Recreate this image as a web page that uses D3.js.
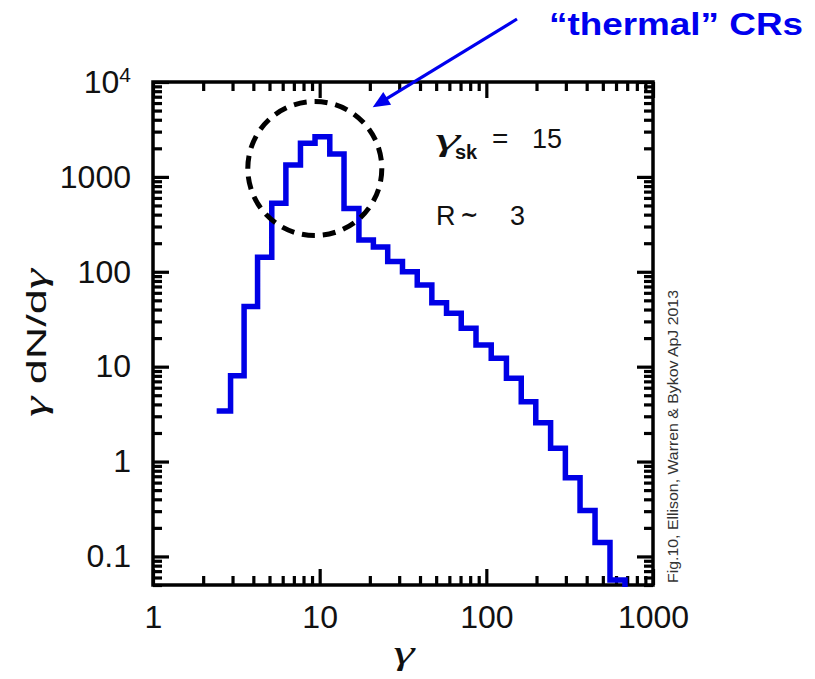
<!DOCTYPE html>
<html>
<head>
<meta charset="utf-8">
<script src="https://cdn.jsdelivr.net/npm/d3@7"></script>
<style>
  html, body { margin: 0; padding: 0; background: #ffffff; }
  svg { display: block; }
</style>
</head>
<body>
<svg id="chart" width="815" height="679"></svg>
<script>
// Lorentz-factor bin edges (gamma) of the histogram
const binEdges = [2.41, 2.92, 3.52, 4.24, 5.16, 6.27, 7.67, 9.38, 11.5, 14.0,
                  17.2, 21.0, 25.6, 31.4, 38.5, 47.1, 57.7, 70.7, 86.7, 107,
                  132, 162, 198, 243, 298, 365, 449, 552, 679, 836];
// gamma dN/dgamma in each bin
const binValues = [3.4, 8.0, 43, 142, 527, 1335, 2260, 2650, 1740, 465,
                   216, 182, 128, 100, 72.6, 47.2, 36.5, 25.4, 16.9, 12.3,
                   7.55, 4.28, 2.57, 1.38, 0.676, 0.304, 0.140, 0.0565, 0.03];

const xTickValues = [1, 10, 100, 1000];
const xTickLabels = ["1", "10", "100", "1000"];
const yTickValues = [0.1, 1, 10, 100, 1000, 10000];
const yTickLabels = ["0.1", "1", "10", "100", "1000", "10^4"];

const xDomain = [1, 1000];
const yDomain = [0.05, 10000];

// thermal peak marker: centre in data units
const peakCentre = { gamma: 9.35, value: 1225 };

const svg = d3.select("#chart");
const pLeft = 153, pRight = 653, pTop = 82, pBottom = 585;
const FONT = "'Liberation Sans', Arial, Helvetica, sans-serif";
const GREEK = "'Liberation Serif', 'Times New Roman', serif";

const x = d3.scaleLog().domain(xDomain).range([pLeft, pRight]);
const y = d3.scaleLog().domain(yDomain).range([pBottom, pTop]);

// minor / major tick sets from the log scales
const isMajor = d => Math.abs(Math.log10(d) - Math.round(Math.log10(d))) < 1e-9;
const xMinor = x.ticks().filter(d => !isMajor(d));
const yMinor = y.ticks().filter(d => !isMajor(d));

const MINOR = 9, MAJOR = 16;

function styleAxis(g) {
  g.select(".domain").remove();
  g.selectAll(".tick line").attr("stroke", "#000").attr("stroke-width", 3.2);
  g.selectAll(".tick text")
    .attr("fill", "#111")
    .attr("font-family", FONT)
    .attr("font-size", 32);
}

// bottom
svg.append("g").attr("transform", `translate(0,${pBottom})`)
  .call(d3.axisBottom(x).tickValues(xMinor).tickSize(-MINOR).tickFormat(""))
  .call(styleAxis);
svg.append("g").attr("transform", `translate(0,${pBottom})`)
  .call(d3.axisBottom(x).tickValues(xTickValues).tickSize(-MAJOR).tickPadding(20)
        .tickFormat((d, i) => xTickLabels[i]))
  .call(styleAxis);
// top
svg.append("g").attr("transform", `translate(0,${pTop})`)
  .call(d3.axisTop(x).tickValues(xMinor).tickSize(-MINOR).tickFormat(""))
  .call(styleAxis);
svg.append("g").attr("transform", `translate(0,${pTop})`)
  .call(d3.axisTop(x).tickValues(xTickValues).tickSize(-MAJOR).tickFormat(""))
  .call(styleAxis);
// left
svg.append("g").attr("transform", `translate(${pLeft},0)`)
  .call(d3.axisLeft(y).tickValues(yMinor).tickSize(-MINOR).tickFormat(""))
  .call(styleAxis);
const yMajorG = svg.append("g").attr("transform", `translate(${pLeft},0)`)
  .call(d3.axisLeft(y).tickValues(yTickValues).tickSize(-MAJOR).tickPadding(22)
        .tickFormat((d, i) => yTickLabels[i]))
  .call(styleAxis);
// right
svg.append("g").attr("transform", `translate(${pRight},0)`)
  .call(d3.axisRight(y).tickValues(yMinor).tickSize(-MINOR).tickFormat(""))
  .call(styleAxis);
svg.append("g").attr("transform", `translate(${pRight},0)`)
  .call(d3.axisRight(y).tickValues(yTickValues).tickSize(-MAJOR).tickFormat(""))
  .call(styleAxis);

// power-of-ten label drawn with a superscript exponent
yMajorG.selectAll(".tick text").each(function(d, i) {
  const lab = yTickLabels[i];
  if (lab.includes("^")) {
    const [base, exp] = lab.split("^");
    const t = d3.select(this).text(null);
    t.append("tspan").text(base);
    t.append("tspan").attr("font-size", 21).attr("dy", "-0.5em").text(exp);
  }
});

// frame
svg.append("rect")
  .attr("x", pLeft).attr("y", pTop)
  .attr("width", pRight - pLeft).attr("height", pBottom - pTop)
  .attr("fill", "none").attr("stroke", "#000").attr("stroke-width", 3.5);

// histogram step line
svg.append("clipPath").attr("id", "plotClip")
  .append("rect").attr("x", pLeft).attr("y", pTop)
  .attr("width", pRight - pLeft).attr("height", pBottom - pTop + 2);

const stepPoints = binValues.map((v, i) => [binEdges[i], v]);
stepPoints.push([binEdges[binEdges.length - 1], binValues[binValues.length - 1]]);

const line = d3.line()
  .x(d => x(d[0]))
  .y(d => y(d[1]))
  .curve(d3.curveStepAfter);

svg.append("path")
  .datum(stepPoints)
  .attr("clip-path", "url(#plotClip)")
  .attr("d", line)
  .attr("fill", "none")
  .attr("stroke", "#0000e6")
  .attr("stroke-width", 5.5)
  .attr("stroke-linejoin", "miter");

// dashed circle around the thermal peak
svg.append("circle")
  .attr("cx", x(peakCentre.gamma))
  .attr("cy", y(peakCentre.value))
  .attr("r", 67)
  .attr("fill", "none")
  .attr("stroke", "#000")
  .attr("stroke-width", 5)
  .attr("stroke-dasharray", "13 8");

// arrow pointing at the circle
const a0 = [517, 19], a1 = [372.7, 107.3];
const adx = a1[0] - a0[0], ady = a1[1] - a0[1];
const alen = Math.hypot(adx, ady);
const ux = adx / alen, uy = ady / alen;
const headLen = 17, headHalf = 7.5;
const headBase = [a1[0] - ux * headLen, a1[1] - uy * headLen];
svg.append("line")
  .attr("x1", a0[0]).attr("y1", a0[1])
  .attr("x2", headBase[0] + ux * 2).attr("y2", headBase[1] + uy * 2)
  .attr("stroke", "#0000ee").attr("stroke-width", 3.2);
svg.append("path")
  .attr("d", `M${a1[0]},${a1[1]}L${headBase[0] - uy * headHalf},${headBase[1] + ux * headHalf}L${headBase[0] + uy * headHalf},${headBase[1] - ux * headHalf}Z`)
  .attr("fill", "#0000ee");

// annotation title
svg.append("text")
  .attr("x", 549).attr("y", 35)
  .attr("font-family", FONT).attr("font-weight", "bold")
  .attr("font-size", 32)
  .attr("textLength", 254).attr("lengthAdjust", "spacingAndGlyphs")
  .attr("fill", "#0000ee")
  .text("\u201Cthermal\u201D CRs");

// shock parameters
const ann = svg.append("g").attr("font-family", FONT).attr("fill", "#111");
ann.append("text").attr("x", 435).attr("y", 150).attr("font-size", 32)
  .attr("font-family", GREEK).attr("font-style", "italic")
  .attr("textLength", 25).attr("lengthAdjust", "spacingAndGlyphs").text("\u03B3");
ann.append("text").attr("x", 455).attr("y", 159).attr("font-size", 20)
  .attr("font-weight", "bold").text("sk");
ann.append("text").attr("x", 492).attr("y", 148).attr("font-size", 28).text("=");
ann.append("text").attr("x", 532).attr("y", 148).attr("font-size", 27).text("15");
ann.append("text").attr("x", 436).attr("y", 225).attr("font-size", 27).text("R");
ann.append("text").attr("x", 460).attr("y", 222).attr("font-size", 22)
  .attr("font-family", "'DejaVu Sans', sans-serif").attr("font-weight", "bold")
  .text("~");
ann.append("text").attr("x", 510).attr("y", 225).attr("font-size", 27).text("3");

// axis titles
svg.append("text")
  .attr("x", 404).attr("y", 664)
  .attr("text-anchor", "middle")
  .attr("font-family", GREEK).attr("font-style", "italic")
  .attr("font-size", 34).attr("fill", "#111")
  .attr("textLength", 21).attr("lengthAdjust", "spacingAndGlyphs")
  .text("\u03B3");
const yTitle = svg.append("text")
  .attr("transform", "translate(46,343) rotate(-90)")
  .attr("text-anchor", "middle")
  .attr("font-family", FONT).attr("font-size", 27).attr("fill", "#111")
  .attr("textLength", 148).attr("lengthAdjust", "spacingAndGlyphs");
yTitle.append("tspan").attr("font-family", GREEK).attr("font-style", "italic")
  .attr("font-size", 31).text("\u03B3");
yTitle.append("tspan").text(" dN/d");
yTitle.append("tspan").attr("font-family", GREEK).attr("font-style", "italic")
  .attr("font-size", 31).text("\u03B3");

// source credit
svg.append("text")
  .attr("transform", "translate(678,583) rotate(-90)")
  .attr("font-family", FONT).attr("font-size", 15.5).attr("fill", "#333")
  .attr("textLength", 293).attr("lengthAdjust", "spacingAndGlyphs")
  .text("Fig.10, Ellison, Warren & Bykov ApJ 2013");
</script>
</body>
</html>
